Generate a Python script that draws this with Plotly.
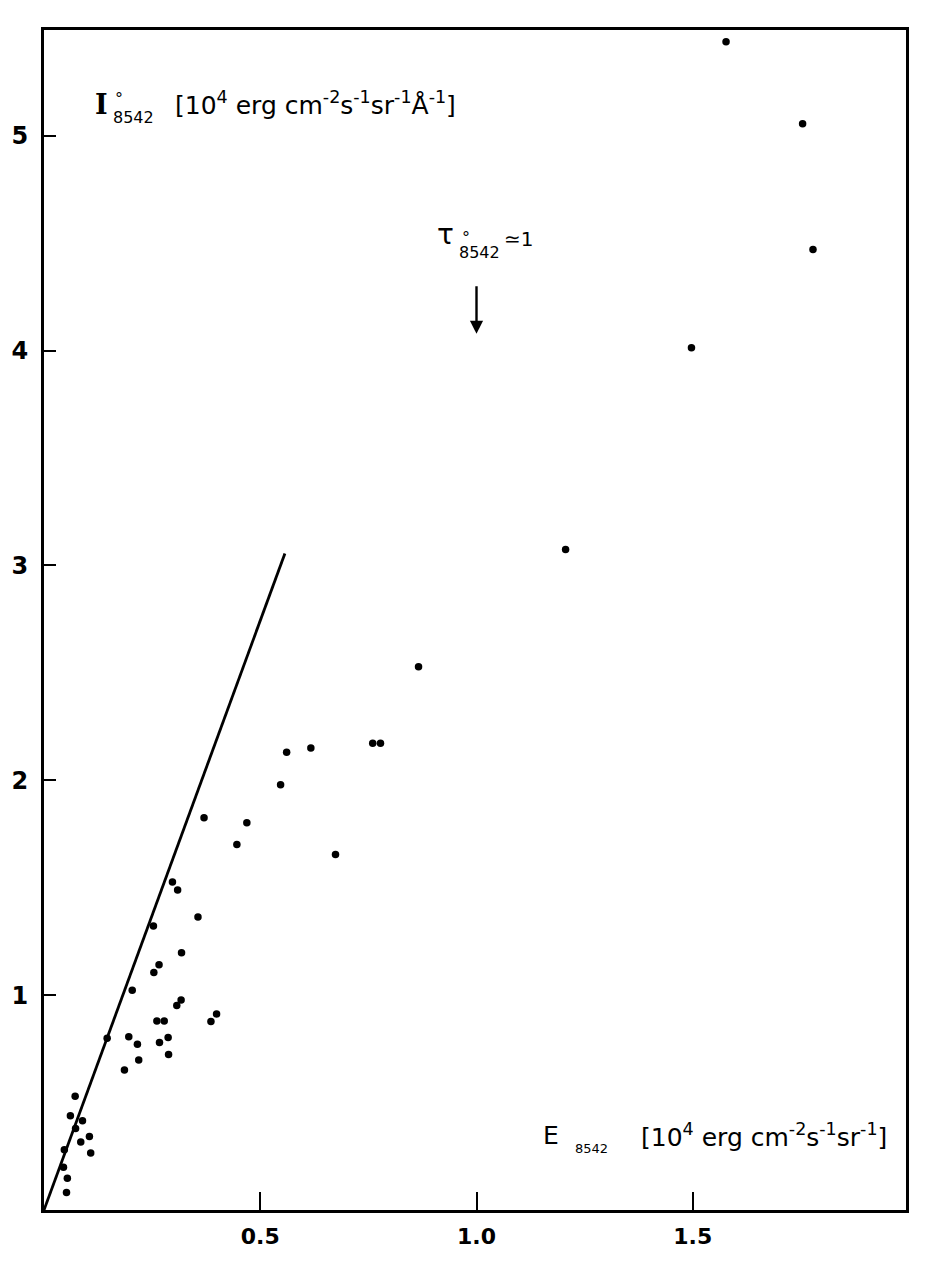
import plotly.graph_objects as go

# ---- data ----
E_8542 = [1.577, 1.754, 1.778, 1.497, 1.206, 0.866, 0.760, 0.778, 0.617, 0.561,
          0.547, 0.469, 0.370, 0.446, 0.674, 0.297, 0.309, 0.356, 0.253, 0.318,
          0.266, 0.254, 0.204, 0.317, 0.307, 0.261, 0.278, 0.399, 0.386, 0.146,
          0.196, 0.216, 0.267, 0.287, 0.219, 0.288, 0.186, 0.072, 0.061, 0.089,
          0.073, 0.085, 0.105, 0.047, 0.108, 0.045, 0.054, 0.052]
I_8542 = [5.438, 5.056, 4.471, 4.013, 3.074, 2.529, 2.173, 2.173, 2.150, 2.131,
          1.979, 1.803, 1.826, 1.701, 1.655, 1.527, 1.490, 1.364, 1.322, 1.197,
          1.142, 1.106, 1.023, 0.977, 0.952, 0.880, 0.880, 0.912, 0.877, 0.800,
          0.806, 0.771, 0.780, 0.803, 0.698, 0.724, 0.652, 0.530, 0.439, 0.415,
          0.379, 0.316, 0.342, 0.281, 0.265, 0.199, 0.148, 0.082]
LINE_X = [0.0, 0.557]
LINE_Y = [0.0, 3.056]
X_TICKS = [0.5, 1.0, 1.5]
X_TICK_LABELS = ["0.5", "1.0", "1.5"]
Y_TICKS = [1, 2, 3, 4, 5]
Y_TICK_LABELS = ["1", "2", "3", "4", "5"]
TAU_MARK_X = 1.0
TAU_MARK_Y = 4.078

W, H = 928, 1261
L, R, T, B = 42, 905, 30, 1218          # target plot area (reference pixels)
ML, MR = 36, 22                          # figure margins (left/right)
X_MAX = (R - L) / 433.0
Y_MAX = (B - T) / 216.3

def px(xp, yp):
    return (xp - L) / (R - L), (B - yp) / (B - T)

TFONT = "DejaVu Sans, Liberation Sans, sans-serif"

fig = go.Figure()
fig.add_trace(go.Scatter(x=LINE_X, y=LINE_Y, mode="lines",
                         line=dict(color="black", width=2.8), hoverinfo="skip"))
fig.add_trace(go.Scatter(x=E_8542, y=I_8542, mode="markers",
                         marker=dict(color="black", size=7.5)))

ann = []
def text(xp, yp, s, size, family=TFONT, weight="normal"):
    xx, yy = px(xp, yp)
    ann.append(dict(xref="paper", yref="paper", x=xx, y=yy, text=s, showarrow=False,
                    xanchor="left", yanchor="middle",
                    font=dict(family=family, size=size, color="black", weight=weight)))

# y-axis label
text(91, 105, "I", 27, family="DejaVu Serif, Liberation Serif, serif", weight="bold")
text(111, 99, "°", 16)
text(109, 118, "8542", 16)
text(171, 104, "[10<sup>4</sup> erg cm<sup>-2</sup>s<sup>-1</sup>sr<sup>-1</sup>Å<sup>-1</sup>]", 25)
# x-axis label
text(540, 1143, "E", 25)
text(572, 1156, "8542", 13)
text(638, 1143, "[10<sup>4</sup> erg cm<sup>-2</sup>s<sup>-1</sup>sr<sup>-1</sup>]", 25)
# tau label
text(433, 236, "τ", 28)
text(458, 239, "°", 16)
text(455, 254, "8542", 16)
text(501, 240, "≃1", 20)

# arrow
ann.append(dict(x=TAU_MARK_X, y=TAU_MARK_Y, xref="x", yref="y",
                ax=0, ay=-49, showarrow=True, arrowhead=2, arrowsize=1.1,
                arrowwidth=2.4, arrowcolor="black", text=""))

fig.update_layout(
    width=W, height=H,
    margin=dict(l=ML, r=MR, t=T, b=H - B, pad=0),
    paper_bgcolor="white", plot_bgcolor="white",
    showlegend=False,
    annotations=ann,
    xaxis=dict(range=[0, X_MAX], tickvals=X_TICKS, ticktext=X_TICK_LABELS,
               ticks="inside", ticklen=18, tickwidth=1.6, tickcolor="black",
               showline=True, linecolor="black", linewidth=2.8, mirror=True,
               showgrid=False, zeroline=False, ticklabelstandoff=5,
               tickfont=dict(family=TFONT, size=22, color="black", weight="bold")),
    yaxis=dict(range=[0, Y_MAX], tickvals=Y_TICKS, ticktext=Y_TICK_LABELS,
               ticks="inside", ticklen=12, tickwidth=1.6, tickcolor="black",
               showline=True, linecolor="black", linewidth=2.8, mirror=True,
               showgrid=False, zeroline=False, ticklabelstandoff=8,
               tickfont=dict(family=TFONT, size=24, color="black", weight="bold")),
)

fig.write_html("out.html", config={"displayModeBar": False},
               post_script="document.body.style.margin='0px';document.body.style.overflow='hidden';")
